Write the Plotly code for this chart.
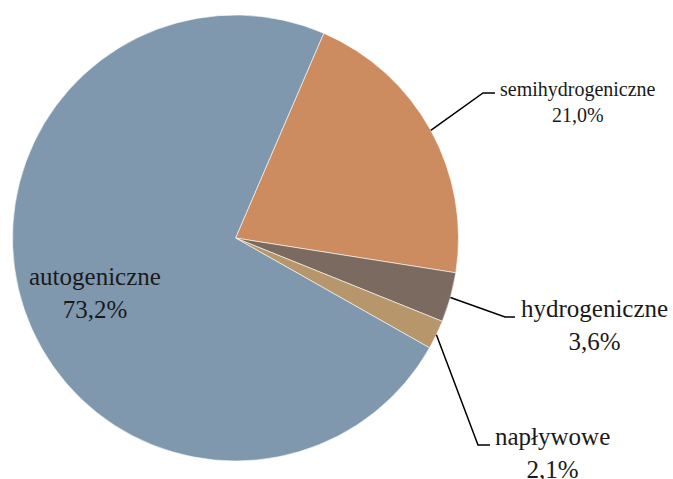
import math
import plotly.graph_objects as go

# ---- data ----
categories = ["semihydrogeniczne", "hydrogeniczne", "napływowe", "autogeniczne"]
values = [21.0, 3.6, 2.1, 73.2]
pct_labels = ["21,0%", "3,6%", "2,1%", "73,2%"]
colors = ["#CD8C5F", "#7A6A5F", "#B8966C", "#7F98AE"]

W, H = 673, 479
cx, cy, R = 235.5, 238.0, 223.0
rotation = 23.3

def px2paper(x, y):
    return x / W, 1 - y / H

fig = go.Figure(go.Pie(
    labels=categories, values=values, sort=False, direction="clockwise",
    rotation=rotation, textinfo="none", hoverinfo="label+percent",
    marker=dict(colors=colors, line=dict(color="white", width=0.6)),
    domain=dict(x=[(cx - R) / W, (cx + R) / W], y=[1 - (cy + R) / H, 1 - (cy - R) / H]),
    showlegend=False,
))

font_family = "Liberation Serif"
# label layout (pixel positions): label centre, elbow, line end, font size
label_layout = {
    "semihydrogeniczne": dict(pos=(578, 102), elbow=(483, 93), end=(495, 93), size=20),
    "hydrogeniczne": dict(pos=(594, 325), elbow=(505, 317), end=(515, 317), size=25),
    "napływowe": dict(pos=(552, 453), elbow=(478, 445), end=(490, 445), size=25),
    "autogeniczne": dict(pos=(95, 293), elbow=None, end=None, size=25),
}

annotations = []
shapes = []
total = sum(values)
start = rotation
for cat, v, pl in zip(categories, values, pct_labels):
    span = v / total * 360
    mid = math.radians(start + span / 2)
    start += span
    lay = label_layout[cat]
    x, y = px2paper(*lay["pos"])
    annotations.append(dict(
        x=x, y=y, xref="paper", yref="paper", text=f"{cat}<br>{pl}",
        showarrow=False, align="center", xanchor="center", yanchor="middle",
        font=dict(family=font_family, size=lay["size"], color="#1a1a1a"),
    ))
    if lay["elbow"] is not None:
        sx = cx + R * math.sin(mid)
        sy = cy - R * math.cos(mid)
        pts = [(sx, sy), lay["elbow"], lay["end"]]
        path = "M " + " L ".join(f"{px / W},{1 - py / H}" for px, py in pts)
        shapes.append(dict(type="path", path=path, xref="paper", yref="paper",
                           line=dict(color="black", width=1.5)))

fig.update_layout(
    width=W, height=H, margin=dict(l=0, r=0, t=0, b=0),
    paper_bgcolor="white", plot_bgcolor="white",
    annotations=annotations, shapes=shapes,
)
fig.write_html("out.html", config={"displayModeBar": False},
               post_script="document.body.style.margin='0';")
